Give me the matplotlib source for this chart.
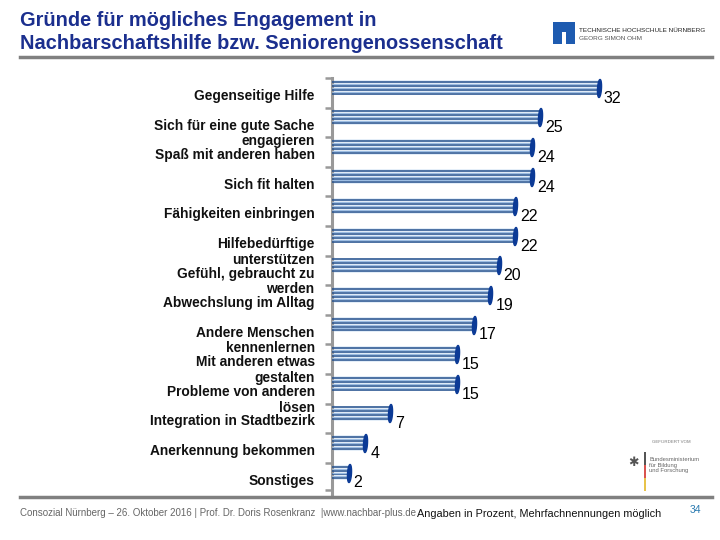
import matplotlib
matplotlib.use("Agg")
import matplotlib.pyplot as plt
import numpy as np
from matplotlib.path import Path
from matplotlib.patches import Rectangle
from matplotlib.lines import Line2D

plt.rcParams['font.family'] = ['Liberation Sans', 'DejaVu Sans']

categories = [
    "Gegenseitige Hilfe",
    "Sich für eine gute Sache\nengagieren",
    "Spaß mit anderen haben",
    "Sich fit halten",
    "Fähigkeiten einbringen",
    "Hilfebedürftige\nunterstützen",
    "Gefühl, gebraucht zu\nwerden",
    "Abwechslung im Alltag",
    "Andere Menschen\nkennenlernen",
    "Mit anderen etwas\ngestalten",
    "Probleme von anderen\nlösen",
    "Integration in Stadtbezirk",
    "Anerkennung bekommen",
    "Sonstiges",
]
values = [32, 25, 24, 24, 22, 22, 20, 19, 17, 15, 15, 7, 4, 2]

title = "Gründe für mögliches Engagement in\nNachbarschaftshilfe bzw. Seniorengenossenschaft"
footer_left = "Consozial Nürnberg – 26. Oktober 2016 | Prof. Dr. Doris Rosenkranz  |www.nachbar-plus.de"
footer_note = "Angaben in Prozent, Mehrfachnennungen möglich"
page_no = "34"

W, H = 720, 540
fig = plt.figure(figsize=(7.2, 5.4), dpi=100)

def fx(px):
    return px / W

def fy(py):
    return 1 - py / H

# Title
fig.text(fx(20), fy(11), title, ha='left', va='top', fontsize=14.4, fontweight='bold',
         color='#1b2f8e', linespacing=1.28)

# header / footer lines
fig.add_artist(Line2D([fx(20), fx(712)], [fy(57), fy(57)], color='#808080', lw=2.5))
fig.add_artist(Line2D([fx(20), fx(712)], [fy(497), fy(497)], color='#808080', lw=2.5))

# TH logo
fig.add_artist(Rectangle((fx(553), fy(44)), fx(22), 22 / H, color='#1e5bb0', lw=0))
fig.add_artist(Rectangle((fx(562), fy(44)), fx(4), 12 / H, color='white', lw=0))
fig.text(fx(579), fy(31), "TECHNISCHE HOCHSCHULE NÜRNBERG", fontsize=4.6, color='#222222', va='center', ha='left')
fig.text(fx(579), fy(39), "GEORG SIMON OHM", fontsize=4.6, color='#555555', va='center', ha='left')

# BMBF logo
fig.text(fx(652), fy(442), "GEFÖRDERT VOM", fontsize=3.2, color='#777777', ha='left', va='center')
fig.text(fx(633), fy(462), "✱", fontsize=9, color='#555555', ha='center', va='center', family=['DejaVu Sans'])
for i, c in enumerate(['#555555', '#d9534f', '#e8c34a']):
    fig.add_artist(Rectangle((fx(644), fy(452 + (i + 1) * 13)), fx(1.5), 13 / H, color=c, lw=0))
fig.text(fx(649), fy(465), "Bundesministerium\nfür Bildung\nund Forschung", fontsize=4.2, color='#666666',
         ha='left', va='center', linespacing=1.1)

# Footer text
fig.text(fx(20), fy(513), footer_left, fontsize=7, color='#666666', ha='left', va='center')
fig.text(fx(417), fy(514), footer_note, fontsize=7.8, color='#111111', ha='left', va='center')
fig.text(fx(690), fy(510), page_no, fontsize=7.5, color='#2a7ab0', ha='left', va='center')

# Axes
ax_left, ax_top, ax_w, ax_bottom = 332, 78, 300, 495
ax = fig.add_axes([fx(ax_left), fy(ax_bottom), fx(ax_w), (ax_bottom - ax_top) / H])
ax.set_xlim(0, 36)
row_px = 29.6
ax.set_ylim(13 + (ax_bottom - 472.5) / row_px, -(87.5 - ax_top) / row_px)
ax.patch.set_alpha(0)

y = np.arange(len(values))
vals = np.array(values)

bh = 0.52
ax.barh(y, vals, height=bh, color='#e4eef8', lw=0, zorder=2)
for off in [-0.2, -0.067, 0.067, 0.2]:
    ax.hlines(y + off, 0, vals, color='#234f8c', lw=1.1, zorder=3)
for off in [-0.133, 0.0, 0.133]:
    ax.hlines(y + off, 0, vals, color='#9dbde2', lw=0.8, zorder=3)

# ellipse caps
t = np.linspace(0, 2 * np.pi, 40)
ell = Path(np.column_stack([0.22 * np.cos(t) + 0.06 * np.sin(t), np.sin(t)]))
ax.plot(vals, y, ls='none', marker=ell, markersize=13, color='#0b3a96', zorder=4)
ax.plot(np.zeros_like(vals), y, ls='none', marker=ell, markersize=13, markerfacecolor='none',
        markeredgecolor='#bbbbbb', markeredgewidth=0.5, zorder=1)

# value labels
for yi, v in zip(y, vals):
    ax.text(v + 0.6, yi + 0.1, str(v), ha='left', va='top', fontsize=11.5, color='black', zorder=5)

# category labels
for yi, lab in zip(y, categories):
    ax.annotate(lab, xy=(0, yi + 0.04), xycoords=('axes fraction', 'data'), xytext=(-12.5, 0),
                textcoords='offset points', ha='right', va='top', fontsize=9.9, fontweight='bold',
                color='#111111', linespacing=1.15, multialignment='right')

for s in ['top', 'right', 'bottom']:
    ax.spines[s].set_visible(False)
ax.spines['left'].set_color('#999999')
ax.spines['left'].set_linewidth(2.2)
ax.set_xticks([])
ax.set_yticks(list(y - 0.33) + [13.6])
ax.set_yticklabels([])
ax.tick_params(axis='y', length=5, width=1.8, color='#999999', direction='out')

fig.savefig("out.png", dpi=100)
